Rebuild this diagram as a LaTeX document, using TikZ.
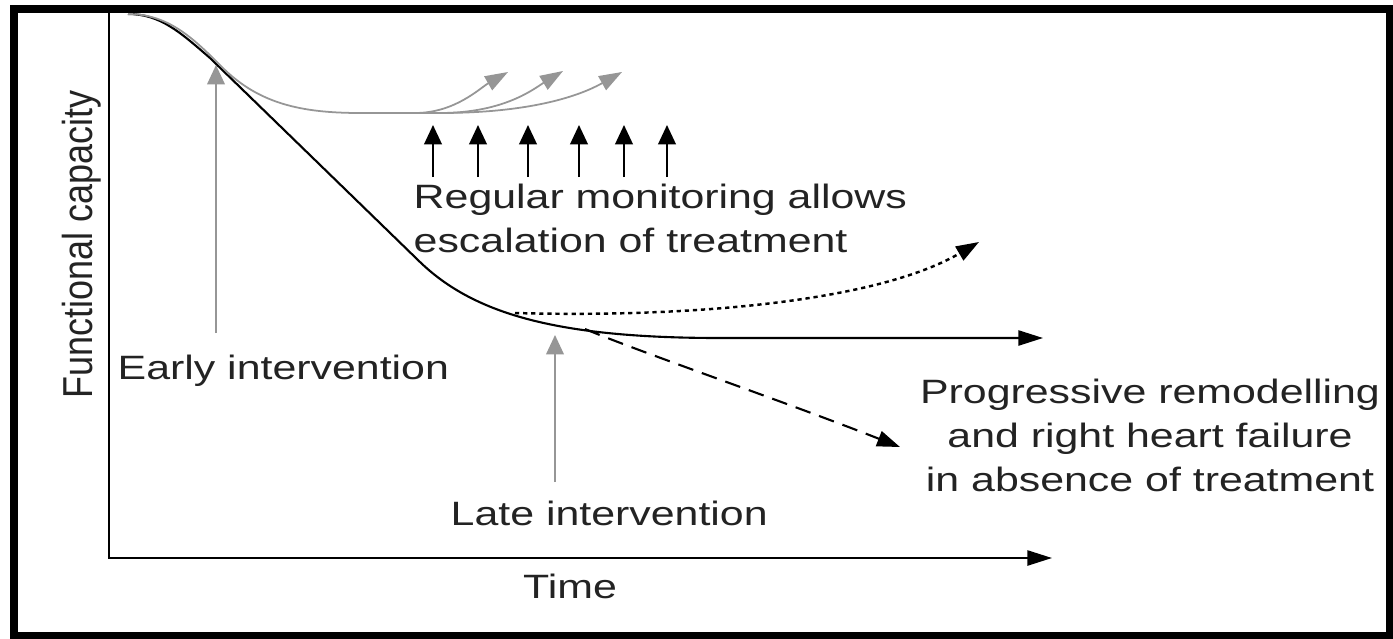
\documentclass[tikz,border=0pt]{standalone}
\usepackage{fontspec}
\setmainfont{Liberation Sans}[FakeStretch=1.27]
\newfontfamily\sidefont{Liberation Sans}[FakeStretch=0.86]
\usetikzlibrary{arrows.meta}
\definecolor{softgrey}{RGB}{150,150,150}
\definecolor{inkgrey}{RGB}{35,35,35}

\begin{document}
\begin{tikzpicture}[x=0.01cm, y=-0.01cm,
    txt/.style={inner sep=0pt, text=inkgrey, font=\fontsize{9.6}{12.5}\selectfont},
    trend/.style={line width=0.6pt, black},
    greyline/.style={line width=0.5pt, softgrey},
    bighead/.style={-{Triangle[length=7pt,width=4.3pt]}},
    tiphead/.style={-{Triangle[length=6.5pt,width=4.5pt]}},
    uphead/.style={-{Triangle[length=5.5pt,width=5pt]}}]

    \useasboundingbox[fill=white] (0,0) rectangle (1393,639);
    \draw[line width=2pt] (14,9) rectangle (1390,636);

    % axes
    \coordinate (ytop) at (109,13);
    \coordinate (origin) at (109,558);
    \coordinate (xend) at (1052,558);
    \draw[trend, bighead] (ytop) -- (origin) -- (xend);
    \node[txt, anchor=base] (timelbl) at (570,598) {Time};
    \node[inner sep=0pt, text=inkgrey, rotate=90, anchor=base,
          font=\sidefont\fontsize{11.9}{14}\selectfont] (caplbl) at (92,244) {Functional capacity};

    % decline without early treatment
    \coordinate (start) at (128,14);
    \coordinate (flat) at (1043,338);
    \draw[trend, bighead] (start) .. controls (160,14) and (180,32) .. (210,58)
        -- (420,262) .. controls (475,315) and (560,338) .. (720,338) -- (flat);

    % early treatment keeps capacity up
    \draw[greyline] (start) .. controls (170,14) and (195,40) .. (225,70)
        .. controls (260,103) and (300,113) .. (360,113) -- (440,113);
    \draw[greyline, tiphead] (415,113) .. controls (455,113) and (480,88) .. (508,72);
    \draw[greyline, tiphead] (440,113) .. controls (505,113) and (535,88) .. (563,71);
    \draw[greyline, tiphead] (440,113) .. controls (545,113) and (590,90) .. (622,72);

    % monitoring points
    \foreach \x in {433,478,528,579,624,667}
        \draw[trend, uphead] (\x,177) -- (\x,125);
    \node[txt, anchor=base west, align=left] (monitor) at (413,252)
        {Regular monitoring allows\\escalation of treatment};

    % late treatment / no treatment
    \draw[trend, line width=0.7pt, dash pattern=on 1.2pt off 1.1pt, tiphead]
        (515,313) .. controls (700,318) and (880,300) .. (979,242);
    \draw[trend, dash pattern=on 4.5pt off 2.6pt, tiphead]
        (585,329) .. controls (640,352) and (780,400) .. (900,447);
    \node[txt, anchor=base, align=center] (remodel) at (1150,491)
        {Progressive remodelling\\and right heart failure\\in absence of treatment};

    % interventions
    \coordinate (earlybase) at (216,333);
    \coordinate (earlytip) at (216,65);
    \draw[greyline, uphead] (earlybase) -- (earlytip);
    \node[txt, anchor=base west] (early) at (117,379) {Early intervention};
    \coordinate (latebase) at (555,482);
    \coordinate (latetip) at (555,335);
    \draw[greyline, uphead] (latebase) -- (latetip);
    \node[txt, anchor=base west] (late) at (450,525) {Late intervention};
\end{tikzpicture}
\end{document}
